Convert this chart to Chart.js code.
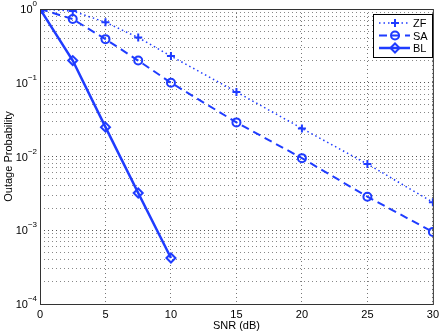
<!DOCTYPE html>
<html>
<head>
<meta charset="utf-8">
<script src="https://cdn.jsdelivr.net/npm/chart.js@4"></script>
<style>
html, body { margin: 0; padding: 0; background: #fff; }
#wrap { width: 443px; height: 333px; }
</style>
</head>
<body>
<div id="wrap"><canvas id="outageChart" width="443" height="333"></canvas></div>
<script>
// values
const snrZF = [0, 2.5, 5, 7.5, 10, 15, 20, 25, 30];
const outZF = [1, 0.94, 0.66, 0.41, 0.23, 0.075, 0.024, 0.0079, 0.0024];

const snrSA = [0, 2.5, 5, 7.5, 10, 15, 20, 25, 30];
const outSA = [1, 0.73, 0.39, 0.20, 0.10, 0.029, 0.0095, 0.00285, 0.00095];

const snrBL = [0, 2.5, 5, 7.5, 10];
const outBL = [1, 0.20, 0.025, 0.0032, 0.00042];

const xTicks = [0, 5, 10, 15, 20, 25, 30];
const yDecades = [-4, -3, -2, -1, 0];

const blue = "#1f3cff";
const font = "Liberation Sans, Arial, sans-serif";

const pts = (xs, ys) => xs.map((x, i) => ({ x: x, y: ys[i] }));

// log grid: 1..9 times each decade
const yGrid = [];
yDecades.forEach(e => {
    for (let m = 1; m <= 9; m++) {
        if (e === 0 && m > 1) break;
        yGrid.push(m * Math.pow(10, e));
    }
});

const series = [
    { label: "ZF", xs: snrZF, ys: outZF, style: "cross", dash: [1.5, 3], width: 1.5, radius: 4 },
    { label: "SA", xs: snrSA, ys: outSA, style: "circle", dash: [8, 5], width: 2, radius: 4 },
    { label: "BL", xs: snrBL, ys: outBL, style: "rectRot", dash: [], width: 2.5, radius: 4.5 }
];

const framePlugin = {
    id: "frame",
    afterDraw(chart) {
        const ctx = chart.ctx;
        const a = chart.chartArea;
        const y = chart.scales.y;
        ctx.save();
        ctx.strokeStyle = "#333";
        ctx.lineWidth = 1;
        ctx.setLineDash([]);
        ctx.strokeRect(a.left + 0.5, a.top + 0.5, a.right - a.left, a.bottom - a.top);

        // y tick labels as 10^n
        ctx.fillStyle = "#000";
        ctx.textBaseline = "middle";
        yDecades.forEach(e => {
            const py = y.getPixelForValue(Math.pow(10, e));
            const exp = e === 0 ? "0" : "\u2212" + Math.abs(e);
            ctx.font = "8px " + font;
            const ew = ctx.measureText(exp).width;
            ctx.textAlign = "left";
            ctx.fillText(exp, a.left - 3 - ew, py - 5);
            ctx.font = "11px " + font;
            ctx.textAlign = "right";
            ctx.fillText("10", a.left - 3 - ew, py + 1);
        });

        // legend box
        const bx = 373, by = 14, bw = 59, bh = 43;
        ctx.fillStyle = "#fff";
        ctx.fillRect(bx, by, bw, bh);
        ctx.strokeStyle = "#000";
        ctx.strokeRect(bx + 0.5, by + 0.5, bw, bh);
        series.forEach((s, i) => {
            const ly = by + 9 + i * 12.5;
            ctx.strokeStyle = blue;
            ctx.lineWidth = s.width;
            ctx.setLineDash(s.dash);
            ctx.beginPath();
            ctx.moveTo(bx + 6, ly);
            ctx.lineTo(bx + 37, ly);
            ctx.stroke();
            ctx.setLineDash([]);
            ctx.lineWidth = 2;
            ctx.fillStyle = "rgba(0,0,0,0)";
            Chart.helpers.drawPoint(ctx, { pointStyle: s.style, radius: s.radius, borderWidth: 2, rotation: 0 }, bx + 22, ly);
            ctx.fillStyle = "#000";
            ctx.font = "11px " + font;
            ctx.textAlign = "left";
            ctx.fillText(s.label, bx + 40, ly + 1);
        });
        ctx.restore();
    }
};

new Chart(document.getElementById("outageChart"), {
    type: "line",
    data: {
        datasets: series.map(s => ({
            label: s.label,
            data: pts(s.xs, s.ys),
            borderColor: blue,
            backgroundColor: "rgba(0,0,0,0)",
            borderWidth: s.width,
            borderDash: s.dash,
            pointStyle: s.style,
            pointRadius: s.radius,
            pointBorderWidth: 2,
            pointBorderColor: blue,
            pointBackgroundColor: "rgba(0,0,0,0)",
            tension: 0,
            fill: false
        }))
    },
    options: {
        responsive: false,
        animation: false,
        layout: { padding: { top: 9, right: 6, left: 0, bottom: 0 } },
        plugins: {
            legend: { display: false },
            tooltip: { enabled: false }
        },
        scales: {
            x: {
                type: "linear",
                min: 0,
                max: 30,
                afterBuildTicks: s => { s.ticks = xTicks.map(v => ({ value: v })); },
                afterFit: s => { s.height = 29; },
                border: { display: false, dash: [1, 3] },
                grid: { color: "#777", lineWidth: 1, drawTicks: false },
                ticks: { color: "#000", font: { family: font, size: 11 }, padding: 4, maxRotation: 0 },
                title: { display: true, text: "SNR (dB)", color: "#000", font: { family: font, size: 11 }, padding: { top: 0, bottom: 0 } }
            },
            y: {
                type: "logarithmic",
                min: 1e-4,
                max: 1,
                afterBuildTicks: s => { s.ticks = yGrid.map(v => ({ value: v })); },
                afterFit: s => { s.width = 40; },
                border: { display: false, dash: [1, 3] },
                grid: {
                    color: c => (Math.abs(Math.log10(c.tick.value) % 1) < 1e-9 ? "#555" : "#888"),
                    lineWidth: 1,
                    drawTicks: false
                },
                ticks: { display: false },
                title: { display: true, text: "Outage Probability", color: "#000", font: { family: font, size: 11 }, padding: { top: 2, bottom: 0 } }
            }
        }
    },
    plugins: [framePlugin]
});
</script>
</body>
</html>
